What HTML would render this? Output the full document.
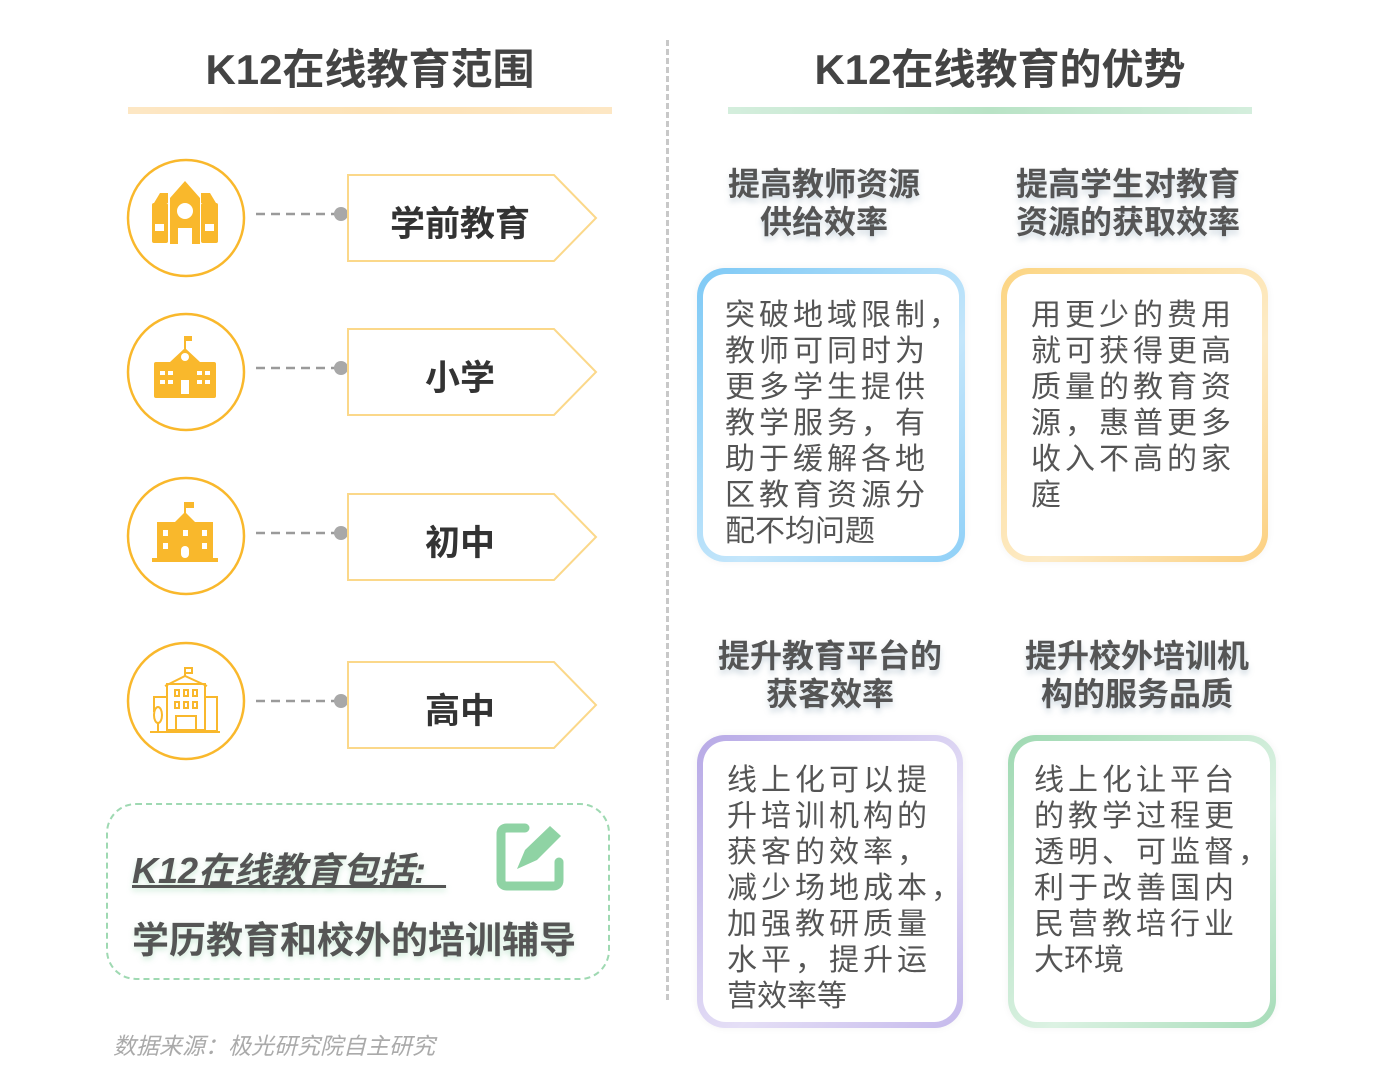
<!DOCTYPE html>
<html><head><meta charset="utf-8"><style>
body{margin:0;width:1376px;height:1080px;background:#fff;position:relative;overflow:hidden;font-family:"Liberation Sans","Noto Sans CJK SC",sans-serif;}
.a{position:absolute;}
.t{color:#444;font-weight:bold;font-size:42px;text-align:center;white-space:nowrap;}
.h{color:#555;font-weight:bold;font-size:32px;line-height:38px;text-align:center;white-space:nowrap;text-shadow:0 4px 6px rgba(120,150,170,0.35);}
.box{position:absolute;border-radius:28px;padding:6px;box-shadow:0 0 8px rgba(0,0,0,0.05);}
.box>div{background:#fff;border-radius:23px;width:100%;height:100%;box-sizing:border-box;padding:22px 0 0 22px;color:#555;font-size:30px;line-height:36px;letter-spacing:4px;white-space:nowrap;overflow:visible;}
.pl{font-weight:bold;font-size:35px;color:#333;text-align:center;width:220px;}
</style></head><body>
<div class="a t" style="left:170px;top:36px;width:400px;">K12在线教育范围</div>
<div class="a" style="left:128px;top:107px;width:484px;height:7px;background:linear-gradient(90deg,#fde7c4,#fde3b8,#fde7c4);"></div>
<div class="a t" style="left:800px;top:36px;width:400px;">K12在线教育的优势</div>
<div class="a" style="left:728px;top:107px;width:524px;height:7px;background:linear-gradient(90deg,#d4eedd,#b9e3c6,#d4eedd);"></div>
<div class="a" style="left:666px;top:40px;height:960px;border-left:3px dashed #c8c8c8;"></div>

<svg class="a" style="left:0;top:0" width="660" height="800">
<g fill="none" stroke="#f9b82c" stroke-width="2.5">
<circle cx="186" cy="218" r="58"/><circle cx="186" cy="372" r="58"/><circle cx="186" cy="536" r="58"/><circle cx="186" cy="701" r="58"/>
</g>
<g stroke="#9a9a9a" stroke-width="2.5" stroke-dasharray="9,6">
<line x1="256" y1="214" x2="336" y2="214"/><line x1="256" y1="368" x2="336" y2="368"/><line x1="256" y1="533" x2="336" y2="533"/><line x1="256" y1="701" x2="336" y2="701"/>
</g>
<g fill="#a8a8a8"><circle cx="341" cy="214" r="7"/><circle cx="341" cy="368" r="7"/><circle cx="341" cy="533" r="7"/><circle cx="341" cy="701" r="7"/></g>
<g fill="#fff" stroke="#fbd88a" stroke-width="2">
<polygon points="348,175 554,175 596,218 554,261 348,261"/>
<polygon points="348,329 554,329 596,372 554,415 348,415"/>
<polygon points="348,494 554,494 596,537 554,580 348,580"/>
<polygon points="348,662 554,662 596,705 554,748 348,748"/>
</g>
<g fill="#f9b82c">
<rect x="152" y="203" width="16" height="40" rx="2"/><rect x="201" y="203" width="17" height="40" rx="2"/>
<polygon points="154,203 160,193 168,193 168,203"/><polygon points="201,203 201,193 210,193 216,203"/>
<polygon points="170,198 185,181 200,198 200,244 170,244"/>
<circle cx="185" cy="211" r="8" fill="#fff"/>
<rect x="178" y="228" width="14" height="16" fill="#fff"/>
<rect x="155" y="224" width="9" height="7" fill="#fff"/><rect x="205" y="224" width="9" height="7" fill="#fff"/>
</g>
<g fill="#f9b82c">
<rect x="154" y="362" width="62" height="36" rx="2"/>
<polygon points="170,362 185,348 200,362"/>
<rect x="184" y="336" width="2" height="14"/><rect x="186" y="336" width="6" height="5"/>
<circle cx="185" cy="357" r="4" fill="#fff"/>
<g fill="#fff"><rect x="160" y="371" width="5" height="4"/><rect x="168" y="371" width="5" height="4"/><rect x="160" y="380" width="5" height="4"/><rect x="168" y="380" width="5" height="4"/>
<rect x="197" y="371" width="5" height="4"/><rect x="205" y="371" width="5" height="4"/><rect x="197" y="380" width="5" height="4"/><rect x="205" y="380" width="5" height="4"/><rect x="181" y="380" width="8" height="14"/></g>
</g>
<g fill="#f9b82c">
<rect x="157" y="522" width="56" height="36"/>
<polygon points="175,522 185,512 195,522"/>
<rect x="184" y="502" width="2" height="12"/><rect x="186" y="502" width="8" height="6"/>
<rect x="152" y="558" width="66" height="4"/>
<g fill="#fff"><rect x="163" y="530" width="5" height="6"/><rect x="183" y="530" width="5" height="6"/><rect x="202" y="530" width="5" height="6"/><rect x="163" y="543" width="5" height="6"/><rect x="202" y="543" width="5" height="6"/><rect x="181" y="546" width="8" height="12" rx="4"/></g>
</g>
<g fill="none" stroke="#f9b82c" stroke-width="2">
<rect x="167" y="684" width="38" height="46"/><polyline points="165,686 185,676 207,686"/>
<line x1="185" y1="676" x2="185" y2="668"/><rect x="185" y="668" width="7" height="5"/>
<rect x="205" y="697" width="12" height="34"/><polyline points="154,712 154,697 166,697"/>
<ellipse cx="158" cy="715" rx="4" ry="8"/><line x1="158" y1="723" x2="158" y2="732"/>
<rect x="175" y="690" width="4" height="6"/><rect x="184" y="690" width="4" height="6"/><rect x="193" y="690" width="4" height="6"/>
<rect x="175" y="702" width="4" height="6"/><rect x="184" y="702" width="4" height="6"/><rect x="193" y="702" width="4" height="6"/>
<rect x="176" y="716" width="20" height="14"/><line x1="150" y1="732" x2="220" y2="732"/>
</g>
</svg>
<div class="a pl" style="left:350px;top:196px;">学前教育</div>
<div class="a pl" style="left:350px;top:350px;">小学</div>
<div class="a pl" style="left:350px;top:515px;">初中</div>
<div class="a pl" style="left:350px;top:683px;">高中</div>

<div class="a" style="left:106px;top:803px;width:500px;height:173px;border:2.5px dashed #9fd9b2;border-radius:30px;"></div>
<div class="a" style="left:132px;top:842px;font-size:36px;font-weight:bold;font-style:italic;color:#555;text-decoration:underline;text-shadow:0 3px 6px rgba(120,200,150,0.35);white-space:nowrap;">K12在线教育包括:&nbsp;&nbsp;</div>
<div class="a" style="left:132px;top:910px;font-size:37px;font-weight:bold;color:#555;text-shadow:0 3px 6px rgba(120,200,150,0.35);white-space:nowrap;">学历教育和校外的培训辅导</div>
<svg class="a" style="left:495px;top:822px" width="74" height="70">
<path d="M30 6 H12 Q6 6 6 12 V58 Q6 64 12 64 H58 Q64 64 64 58 V40" fill="none" stroke="#8fd3a4" stroke-width="9" stroke-linecap="round"/>
<polygon points="22,47 30,28 55,4 66,14 42,38" fill="#8fd3a4"/>
</svg>
<div class="a" style="left:113px;top:1027px;font-size:23px;font-style:italic;color:#aaa;white-space:nowrap;">数据来源：极光研究院自主研究</div>

<div class="a h" style="left:694px;top:165px;width:260px;">提高教师资源<br>供给效率</div>
<div class="a h" style="left:998px;top:165px;width:260px;">提高学生对教育<br>资源的获取效率</div>
<div class="a h" style="left:690px;top:637px;width:280px;">提升教育平台的<br>获客效率</div>
<div class="a h" style="left:997px;top:637px;width:280px;">提升校外培训机<br>构的服务品质</div>

<div class="box" style="left:697px;top:268px;width:256px;height:282px;background:linear-gradient(135deg,#7ec9f5,#c4e6fb 60%,#8fd0f7);"><div style="padding-left:22px;padding-top:24px;">突破地域限制，<br>教师可同时为<br>更多学生提供<br>教学服务，有<br>助于缓解各地<br>区教育资源分<br><span style="letter-spacing:0">配不均问题</span></div></div>
<div class="box" style="left:1001px;top:268px;width:255px;height:282px;background:linear-gradient(135deg,#fcd583,#fdebc6 60%,#fcd080);"><div style="padding-left:24px;padding-top:24px;">用更少的费用<br>就可获得更高<br>质量的教育资<br>源，惠普更多<br>收入不高的家<br>庭</div></div>
<div class="box" style="left:697px;top:735px;width:254px;height:281px;background:linear-gradient(135deg,#b7a9e6,#e5dff6 60%,#c5b9ec);"><div style="padding-left:24px;padding-top:22px;">线上化可以提<br>升培训机构的<br>获客的效率，<br>减少场地成本，<br>加强教研质量<br>水平，提升运<br><span style="letter-spacing:0">营效率等</span></div></div>
<div class="box" style="left:1008px;top:735px;width:256px;height:281px;background:linear-gradient(135deg,#9fd9b2,#dcf2e3 60%,#a6dcb8);"><div style="padding-left:20px;padding-top:22px;">线上化让平台<br>的教学过程更<br>透明、可监督，<br>利于改善国内<br>民营教培行业<br><span style="letter-spacing:0">大环境</span></div></div>
</body></html>
